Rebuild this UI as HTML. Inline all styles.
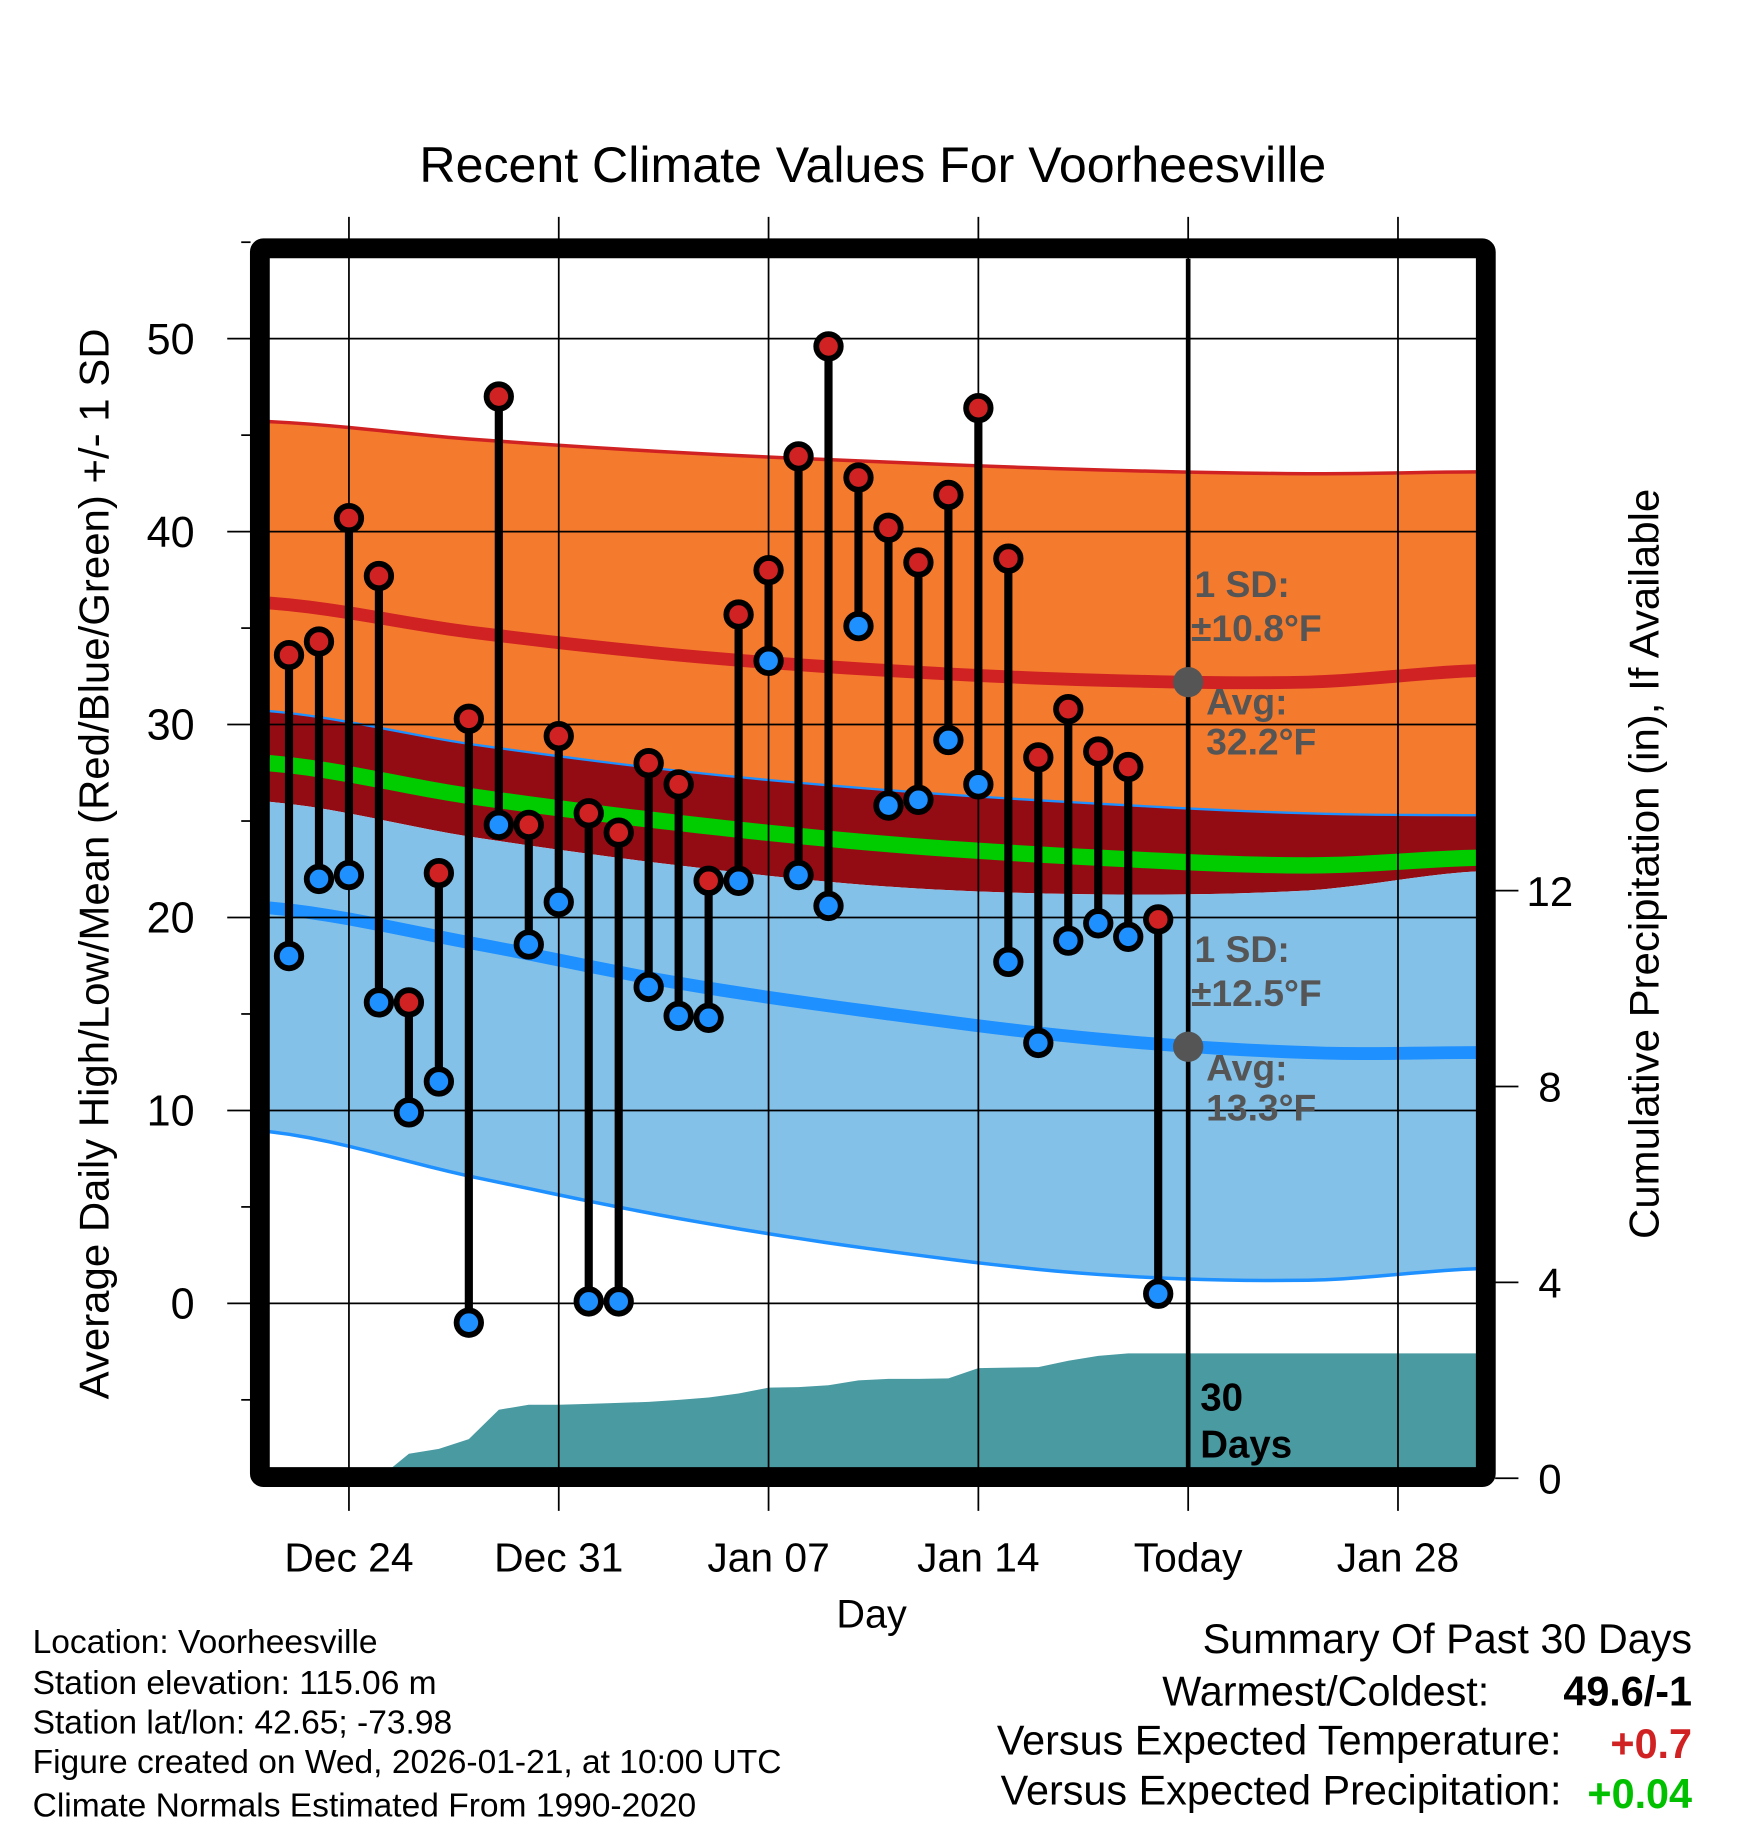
<!DOCTYPE html>
<html><head><meta charset="utf-8"><style>
html,body{margin:0;padding:0;background:#fff;}
svg{display:block;font-family:"Liberation Sans",sans-serif;}
</style></head><body>
<svg id="chart" width="1748" height="1828" viewBox="0 0 1500 1568" preserveAspectRatio="none" xmlns="http://www.w3.org/2000/svg">
<defs><clipPath id="plotclip"><rect x="231" y="222" width="1036" height="1037"/></clipPath></defs>
<rect width="1500" height="1568" fill="#fff"/>
<g id="fills" clip-path="url(#plotclip)"></g>
<g id="grid"></g>
<g id="marks"></g>
<g id="frame"></g>
<g id="labels"></g>
<text x="749" y="156" font-size="43" text-anchor="middle">Recent Climate Values For Voorheesville</text>
<text transform="translate(93,741) rotate(-90)" font-size="36" text-anchor="middle">Average Daily High/Low/Mean (Red/Blue/Green) +/- 1 SD</text>
<text transform="translate(1423,741) rotate(-90)" font-size="36" text-anchor="middle">Cumulative Precipitation (in), If Available</text>
<text x="748" y="1396" font-size="34" text-anchor="middle">Day</text>
<g font-size="28.8">
<text x="28" y="1418">Location: Voorheesville</text>
<text x="28" y="1453">Station elevation: 115.06 m</text>
<text x="28" y="1487">Station lat/lon: 42.65; -73.98</text>
<text x="28" y="1521">Figure created on Wed, 2026-01-21, at 10:00 UTC</text>
<text x="28" y="1558">Climate Normals Estimated From 1990-2020</text>
</g>
<g font-size="35.5">
<text x="1452" y="1418" text-anchor="end">Summary Of Past 30 Days</text>
<text x="1278" y="1463" text-anchor="end">Warmest/Coldest:</text>
<text x="1452" y="1463" text-anchor="end" font-weight="bold">49.6/-1</text>
<text x="1340" y="1505" text-anchor="end">Versus Expected Temperature:</text>
<text x="1452" y="1508" text-anchor="end" font-weight="bold" fill="#d02222">+0.7</text>
<text x="1340" y="1548" text-anchor="end">Versus Expected Precipitation:</text>
<text x="1452" y="1551" text-anchor="end" font-weight="bold" fill="#00c000">+0.04</text>
</g>
</svg>
<script>
// Data (day index 0 = Dec 22)
const highs=[33.6,34.3,40.7,37.7,15.6,22.3,30.3,47.0,24.8,29.4,25.4,24.4,28.0,26.9,21.9,35.7,38.0,43.9,49.6,42.8,40.2,38.4,41.9,46.4,38.6,28.3,30.8,28.6,27.8,19.9];
const lows=[18.0,22.0,22.2,15.6,9.9,11.5,-1.0,24.8,18.6,20.8,0.1,0.1,16.4,14.9,14.8,21.9,33.3,22.2,20.6,35.1,25.8,26.1,29.2,26.9,17.7,13.5,18.8,19.7,19.0,0.5];
const precip=[0,0,0,0,0.5,0.6,0.8,1.4,1.5,1.5,1.52,1.54,1.56,1.6,1.65,1.73,1.85,1.86,1.9,2.0,2.03,2.03,2.04,2.25,2.26,2.27,2.4,2.5,2.55,2.55];
const normDays=[-0.66,6,13,20,27,34,39.7];
const highUpper=[45.7,44.8,44.1,43.6,43.2,43.0,43.1];
const avgHigh=[36.3,34.8,33.6,32.8,32.3,32.2,32.8];
const highLower=[30.7,29.0,27.6,26.6,25.9,25.4,25.3];
const avgMean=[28.0,26.3,24.9,23.8,23.1,22.7,23.1];
const lowUpper=[26.0,24.2,22.7,21.6,21.2,21.4,22.4];
const avgLow=[20.5,18.7,16.6,15.0,13.7,13.0,13.0];
const lowLower=[8.9,6.6,4.4,2.7,1.5,1.2,1.8];
const yTicks=[0,10,20,30,40,50];
const y2Ticks=[0,4,8,12];
const xTickDays=[2,9,16,23,30,37];
const xTickLabels=["Dec 24","Dec 31","Jan 07","Jan 14","Today","Jan 28"];

const NS="http://www.w3.org/2000/svg";
const X=d=>248+d*25.72;
const Y=v=>1118-v*16.55;
const Y2=p=>1268-p*42;
function mk(tag,attrs,parent){const el=document.createElementNS(NS,tag);for(const k in attrs)el.setAttribute(k,attrs[k]);parent.appendChild(el);return el;}
// Catmull-Rom style smooth sampling
function line(arr){
  const n=normDays.length,pts=[];
  for(let i=0;i<n-1;i++){
    const p0=arr[Math.max(i-1,0)],p1=arr[i],p2=arr[i+1],p3=arr[Math.min(i+2,n-1)];
    for(let j=0;j<10;j++){const t=j/10;
      const v=0.5*((2*p1)+(-p0+p2)*t+(2*p0-5*p1+4*p2-p3)*t*t+(-p0+3*p1-3*p2+p3)*t*t*t);
      const d=normDays[i]+(normDays[i+1]-normDays[i])*t;pts.push([X(d),Y(v)]);}
  }
  pts.push([X(normDays[n-1]),Y(arr[n-1])]);return pts;}
function band(a,b){const p=line(a),q=line(b).reverse();return 'M'+p.concat(q).map(v=>v.join(',')).join('L')+'Z';}
function path(a){return 'M'+line(a).map(v=>v.join(',')).join('L');}
const F=document.getElementById('fills');
let e;
e=mk('path',{d:band(highUpper,highLower),fill:'#f47a2e'},F);

e=mk('path',{d:band(highLower,lowUpper),fill:'#930c14'},F);

e=mk('path',{d:band(lowUpper,lowLower),fill:'#84c1e8'},F);

e=mk('path',{d:path(highUpper),fill:'none',stroke:'#d02222','stroke-width':3},F);

e=mk('path',{d:path(highLower),fill:'none',stroke:'#1e90ff','stroke-width':2},F);

e=mk('path',{d:path(lowLower),fill:'none',stroke:'#1e90ff','stroke-width':3},F);

e=mk('path',{d:path(avgMean),fill:'none',stroke:'#00cc00','stroke-width':14},F);

e=mk('path',{d:path(avgHigh),fill:'none',stroke:'#d02222','stroke-width':11},F);

e=mk('path',{d:path(avgLow),fill:'none',stroke:'#1e90ff','stroke-width':11},F);

let pd='M'+X(0)+','+Y2(0);
precip.forEach((p,i)=>{pd+='L'+X(i)+','+Y2(p);});
pd+='L1270,'+Y2(precip[precip.length-1])+'L1270,1268L'+X(0)+',1268Z';
e=mk('path',{d:pd,fill:'#4a9aa2'},F);


const G=document.getElementById('grid');
const LB=document.getElementById('labels');
yTicks.forEach(v=>{e=mk('line',{x1:195,x2:1267,y1:Y(v),y2:Y(v),stroke:'#000','stroke-width':1.5},G);

e=mk('text',{x:167,y:Y(v)+13,'font-size':37,'text-anchor':'end'},LB);e.textContent=v;
});
for(let v=-5;v<=55;v+=10){e=mk('line',{x1:207,x2:215,y1:Y(v),y2:Y(v),stroke:'#000','stroke-width':1.5},G);
}
y2Ticks.forEach(p=>{e=mk('line',{x1:1283,x2:1303,y1:Y2(p),y2:Y2(p),stroke:'#000','stroke-width':1.5},G);

e=mk('text',{x:1330,y:Y2(p)+13,'font-size':36,'text-anchor':'middle'},LB);e.textContent=p;
});
xTickDays.forEach((d,i)=>{e=mk('line',{x1:X(d),x2:X(d),y1:186,y2:1296,stroke:'#000','stroke-width':1.5},G);

e=mk('text',{x:X(d),y:1348,'font-size':35,'text-anchor':'middle'},LB);e.textContent=xTickLabels[i];
});

const M=document.getElementById('marks');
highs.forEach((h,i)=>{const l=lows[i];
e=mk('line',{x1:X(i),x2:X(i),y1:Y(h),y2:Y(l),stroke:'#000','stroke-width':7},M);
});
highs.forEach((h,i)=>{const l=lows[i];
e=mk('circle',{cx:X(i),cy:Y(l),r:10.5,fill:'#1e90ff',stroke:'#000','stroke-width':5},M);

e=mk('circle',{cx:X(i),cy:Y(h),r:10.5,fill:'#d02222',stroke:'#000','stroke-width':5},M);
});

const FR=document.getElementById('frame');
e=mk('line',{x1:X(30),x2:X(30),y1:222,y2:1259,stroke:'#000','stroke-width':4},FR);

e=mk('rect',{x:223,y:213,width:1052,height:1054,fill:'none',stroke:'#000','stroke-width':17,rx:3},FR);

e=mk('circle',{cx:X(30),cy:Y(32.2),r:13,fill:'#555'},FR);

e=mk('circle',{cx:X(30),cy:Y(13.3),r:13,fill:'#555'},FR);

[["1 SD:",1025,512],["\u00b110.8\u00b0F",1022,550],["Avg:",1035,613],["32.2\u00b0F",1035,647],["1 SD:",1025,825],["\u00b112.5\u00b0F",1022,863],["Avg:",1035,927],["13.3\u00b0F",1035,961]].forEach(a=>{
e=mk('text',{x:a[1],y:a[2],'font-size':32,'font-weight':'bold',fill:'#555'},LB);
e.textContent=a[0];
});
[["30",1030,1210],["Days",1030,1250]].forEach(a=>{
e=mk('text',{x:a[1],y:a[2],'font-size':33,'font-weight':'bold',fill:'#000'},LB);
e.textContent=a[0];
});
</script>
</body></html>
